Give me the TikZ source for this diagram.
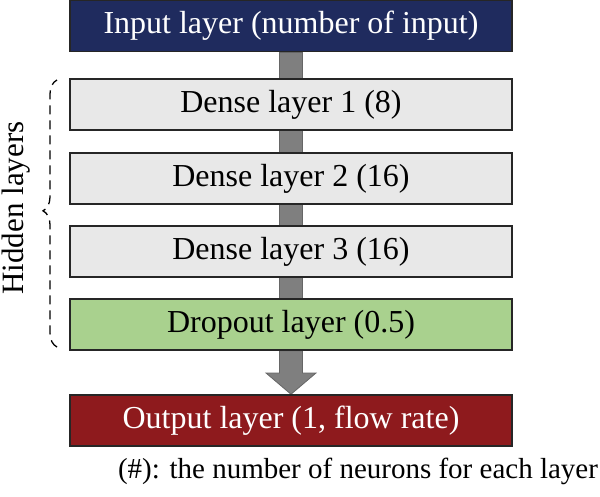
\documentclass[tikz,border=0pt]{standalone}
\usepackage{fontspec}
\setmainfont{Liberation Serif}
\usetikzlibrary{decorations.pathreplacing,backgrounds}
\definecolor{navy}{HTML}{1F2B5E}
\definecolor{darkred}{HTML}{8E1A1D}
\definecolor{lightgr}{HTML}{E8E8E8}
\definecolor{drgreen}{HTML}{A9D18E}
\definecolor{shaftgr}{HTML}{7F7F7F}
\begin{document}
\begin{tikzpicture}[x=1pt,y=-1pt,
  layerbox/.style={draw=black!85, line width=1.5pt, minimum width=442pt, minimum height=51pt,
    inner sep=0pt, font=\fontsize{32}{36}\selectfont},
  shaft/.style={fill=shaftgr, draw=black!60, line width=0.8pt}]
\useasboundingbox (0,0) rectangle (600,496);
\node[layerbox, fill=navy, text=white] (in) at (291,26) {Input layer (number of input)};
\node[layerbox, fill=lightgr] (d1) at (291,104.5) {Dense layer 1 (8)};
\node[layerbox, fill=lightgr] (d2) at (291,178.5) {Dense layer 2 (16)};
\node[layerbox, fill=lightgr] (d3) at (291,251.5) {Dense layer 3 (16)};
\node[layerbox, fill=drgreen] (dr) at (291,324.5) {Dropout layer (0.5)};
\node[layerbox, fill=darkred, text=white] (out) at (291,420.5) {Output layer (1, flow rate)};
\begin{scope}[on background layer]
\draw[shaft] ([xshift=-11.5pt]in.south) rectangle ([xshift=11.5pt]d1.north);
\draw[shaft] ([xshift=-11.5pt]d1.south) rectangle ([xshift=11.5pt]d2.north);
\draw[shaft] ([xshift=-11.5pt]d2.south) rectangle ([xshift=11.5pt]d3.north);
\draw[shaft] ([xshift=-11.5pt]d3.south) rectangle ([xshift=11.5pt]dr.north);
\draw[shaft] ([xshift=-11.5pt]dr.south) -- ([xshift=-11.5pt]dr.south |- 0,373)
  -- ([xshift=-25pt]dr.south |- 0,373) -- (out.north)
  -- ([xshift=25pt]dr.south |- 0,373) -- ([xshift=11.5pt]dr.south |- 0,373)
  -- ([xshift=11.5pt]dr.south) -- cycle;
\end{scope}
\coordinate (bb) at (57,347);
\coordinate (bt) at (57,80);
\draw[dashed, line width=1.3pt, dash pattern=on 9pt off 6pt, decorate,
  decoration={brace, amplitude=14pt, aspect=0.51}] (bb) -- (bt);
\node[rotate=90, anchor=base, font=\fontsize{31}{36}\selectfont] (hid) at (23.5,208) {Hidden layers};
\node[font=\fontsize{29}{34}\selectfont] (note) at (358,471) {(\#): the number of neurons for each layer};
\end{tikzpicture}
\end{document}
